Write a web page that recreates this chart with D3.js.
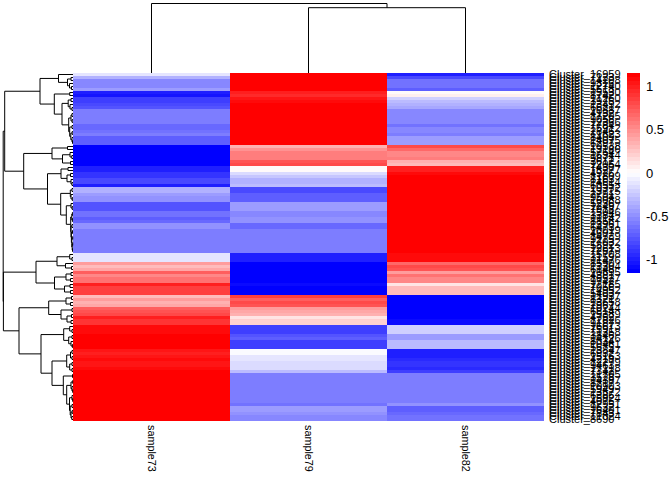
<!DOCTYPE html>
<html>
<head>
<title>Cluster heatmap</title>
<script src="https://d3js.org/d3.v7.min.js"></script>
<style>
  html, body { margin: 0; padding: 0; background: #fff; }
  svg { display: block; }
  text { font-family: "Liberation Sans", Arial, sans-serif; fill: #000; }
  .row-label { text-rendering: optimizeSpeed; font-kerning: none; }
</style>
</head>
<body>
<svg id="chart" width="672" height="480"></svg>
<script>
var samples = ["sample73", "sample79", "sample82"];

var sample73 = [
  -0.12, -0.35, -0.53, -0.53, -0.53, -0.45, -1.0, -1.03, -0.87, -0.85,
  -0.82, -0.78, -0.6, -0.6, -0.6, -0.6, -0.6, -0.68, -0.66, -0.62,
  -0.58, -0.72, -0.72, -0.72, -1.15, -1.15, -1.15, -1.15, -1.15, -1.13,
  -1.12, -1.0, -1.0, -0.9, -0.88, -0.82, -0.82, -1.0, -0.35, -0.33,
  -0.45, -0.47, -0.47, -0.75, -0.75, -0.75, -0.62, -0.63, -0.7, -0.68,
  -0.5, -0.5, -0.58, -0.58, -0.58, -0.58, -0.58, -0.58, -0.58, -0.58,
  -0.12, -0.12, -0.12, 0.45, 0.32, 0.4, 0.72, 0.52, 0.62, 0.63,
  1.0, 0.87, 0.87, 0.85, 0.3, 0.42, 0.35, 0.37, 0.72, 0.78,
  0.82, 1.0, 0.9, 0.88, 1.08, 1.08, 1.08, 1.15, 1.15, 1.15,
  1.15, 1.15, 1.02, 1.0, 1.06, 1.08, 1.05, 1.03, 1.1, 1.15,
  1.15, 1.15, 1.15, 1.15, 1.15, 1.15, 1.15, 1.15, 1.15, 1.15,
  1.15, 1.15, 1.15, 1.15, 1.15, 1.15
];

var sample79 = [
  1.13, 1.15, 1.15, 1.15, 1.15, 1.15, 1.0, 0.95, 1.05, 1.1,
  1.15, 1.15, 1.15, 1.15, 1.15, 1.15, 1.15, 1.15, 1.15, 1.15,
  1.15, 1.15, 1.15, 1.15, 0.35, 0.47, 0.6, 0.6, 0.58, 0.78,
  0.8, 0.0, 0.02, -0.18, -0.25, -0.33, -0.33, -0.28, -0.8, -0.82,
  -0.7, -0.7, -0.7, -0.42, -0.42, -0.42, -0.53, -0.52, -0.47, -0.47,
  -0.65, -0.65, -0.58, -0.58, -0.58, -0.58, -0.58, -0.58, -0.58, -0.58,
  -1.0, -1.0, -1.0, -1.12, -1.14, -1.15, -1.15, -1.15, -1.15, -1.15,
  -1.1, -1.15, -1.15, -1.15, 0.85, 0.73, 0.8, 0.78, 0.43, 0.37,
  0.33, 0.12, 0.2, 0.22, -0.87, -0.87, -0.87, -0.75, -0.72, -0.85,
  -0.85, -0.85, -0.03, -0.04, -0.1, -0.12, -0.16, -0.14, -0.14, -0.3,
  -0.58, -0.58, -0.58, -0.58, -0.58, -0.58, -0.58, -0.58, -0.58, -0.58,
  -0.64, -0.45, -0.45, -0.5, -0.52, -0.52
];

var sample82 = [
  -1.01, -0.8, -0.62, -0.62, -0.62, -0.7, 0.0, 0.05, -0.2, -0.28,
  -0.33, -0.37, -0.55, -0.55, -0.55, -0.55, -0.55, -0.62, -0.55, -0.55,
  -0.57, -0.43, -0.43, -0.43, 0.8, 0.68, 0.55, 0.55, 0.57, 0.35,
  0.32, 1.0, 1.0, 1.08, 1.13, 1.15, 1.15, 1.12, 1.15, 1.15,
  1.15, 1.15, 1.15, 1.15, 1.15, 1.15, 1.15, 1.15, 1.15, 1.15,
  1.15, 1.15, 1.15, 1.15, 1.15, 1.15, 1.15, 1.15, 1.15, 1.15,
  1.1, 1.1, 1.1, 0.68, 0.8, 0.75, 0.43, 0.62, 0.53, 0.52,
  0.1, 0.28, 0.28, 0.3, -1.15, -1.15, -1.15, -1.15, -1.15, -1.15,
  -1.15, -1.12, -1.1, -1.1, -0.22, -0.22, -0.22, -0.42, -0.43, -0.3,
  -0.3, -0.3, -1.0, -1.0, -0.98, -0.97, -0.9, -0.9, -0.95, -0.85,
  -0.58, -0.58, -0.58, -0.58, -0.58, -0.58, -0.58, -0.58, -0.58, -0.58,
  -0.5, -0.7, -0.7, -0.65, -0.62, -0.62
];

// row labels, most of them overlap too much to read so the ids are estimates
var clusterIds = [
  16959, 7123, 14208, 9316, 12740, 5518, 15530, 8742, 11260, 3975,
  13492, 6621, 10887, 4132, 17205, 9058, 12366, 7784, 15912, 2846,
  11623, 8409, 14075, 6297, 10538, 13186, 5764, 16344, 9871, 3612,
  12054, 7430, 15277, 4926, 11809, 8163, 14614, 6055, 10372, 13725,
  2791, 9504, 16088, 5236, 12497, 7918, 15046, 3384, 11142, 8856,
  13961, 6473, 10019, 4607, 14739, 9225, 17032, 5892, 12613, 7267,
  15708, 3159, 11476, 8590, 13304, 6148, 10695, 4381, 16527, 9742,
  12185, 7056, 14952, 5403, 11937, 8321, 13658, 2967, 10244, 6814,
  15389, 4752, 12826, 9187, 16673, 7591, 11358, 3846, 14126, 8034,
  10461, 5675, 13847, 6932, 15163, 4218, 12279, 9463, 17118, 7342,
  11705, 3528, 14387, 8217, 10903, 5949, 13572, 6386, 15824, 4075,
  12951, 9632, 16401, 7843, 11024, 8690
];

var colorTicks = [1, 0.5, 0, -0.5, -1];
var colorBreaks = 50;

// dendrograms: [height, left, right], 0 is a leaf
var rowTree = [6.98,
  [6.83,
    [3.3,
      [1.45, 0, [0.55, [0.2, 0, 0], [0.35, 0, [0.15, 0, 0]]]],
      [1.87,
        [0.33, 0, 0],
        [1.1,
          [0.48, [0.2, 0, 0], [0.3, 0, [0.1, 0, 0]]],
          [0.43,
            [0.2, [0.1, 0, 0], [0.08, 0, 0]],
            [0.33, [0.1, 0, 0], [0.22, [0.08, 0, 0], [0.1, 0, [0.05, 0, 0]]]]]]]],
    [4.93,
      [2.1, [0.55, 0, 0], [1.05, [0.3, 0, [0.12, 0, 0]], [0.25, 0, 0]]],
      [2.55,
        [1.2, [0.5, 0, 0], [0.6, [0.25, 0, 0], [0.2, 0, [0.1, 0, 0]]]],
        [1.23,
          [0.27, [0.1, 0, 0], [0.2, 0, [0.07, 0, 0]]],
          [0.67,
            [0.2, 0, [0.08, 0, 0]],
            [0.23,
              [0.12, [0.06, 0, 0], [0.06, 0, 0]],
              [0.2, [0.1, 0, 0],
                [0.16, [0.05, 0, 0],
                  [0.12, [0.03, 0, 0], [0.08, [0.03, 0, 0], [0.05, 0, 0]]]]]]]]]]],
  [6.96,
    [3.7,
      [1.6, [0.33, 0, [0.1, 0, 0]], [0.75, 0, [0.15, 0, 0]]],
      [1.85, [0.7, [0.2, 0, 0], [0.25, 0, 0]], [0.85, [0.3, 0, 0], [0.25, 0, 0]]]],
    [5.4,
      [2.43,
        [0.7, [0.15, 0, 0], [0.25, 0, 0]],
        [1.2, [0.1, 0, 0], [0.6, [0.15, 0, 0], [0.2, 0, 0]]]],
      [3.2,
        [0.93, [0.33, 0, [0.1, 0, 0]], [0.43, [0.1, 0, 0], [0.2, 0, [0.06, 0, 0]]]],
        [2.1,
          [0.63, [0.25, [0.1, 0, 0], [0.1, 0, 0]], [0.33, [0.1, 0, 0], [0.1, 0, 0]]],
          [0.97,
            [0.05, 0, 0],
            [0.63,
              [0.2, [0.03, 0, 0], [0.1, 0, [0.03, 0, 0]]],
              [0.35, [0.1, 0, [0.03, 0, 0]],
                [0.28, [0.1, 0, 0], [0.2, [0.08, 0, 0], [0.12, 0, 0]]]]]]]]]]];

var colTree = [6.95, 0, [6.53, 0, 0]];

var svg = d3.select("#chart");
var matrix = [sample73, sample79, sample82];
var rowIndex = d3.range(sample73.length);

var x = d3.scaleBand().domain(samples).range([73, 544]);
var y = d3.scaleBand().domain(rowIndex).range([73, 421]);
var treeScale = d3.scaleLinear().domain([0, 6.98]).range([73, 3.2]);

var limit = 1.155;
var ramp = d3.piecewise(d3.interpolateRgb, ["#0000ff", "#ffffff", "#ff0000"]);
var palette = d3.range(colorBreaks).map(function (i) {
  return ramp(i / (colorBreaks - 1));
});
var color = d3.scaleQuantize().domain([-limit, limit]).range(palette);

// heatmap cells
var cols = svg.append("g").attr("shape-rendering", "crispEdges")
  .selectAll("g")
  .data(samples)
  .enter()
  .append("g");

cols.selectAll("rect")
  .data(function (d, i) { return matrix[i]; })
  .enter()
  .append("rect")
  .attr("x", function () { return x(d3.select(this.parentNode).datum()); })
  .attr("y", function (d, i) { return y(i); })
  .attr("width", x.bandwidth())
  .attr("height", y.bandwidth())
  .attr("fill", function (d) { return color(d); });

// walks a tree, returns the leaf side position of the node and collects segments
function walkTree(node, leafPos, segments) {
  if (node === 0) {
    return { pos: leafPos(), h: 0 };
  }
  var a = walkTree(node[1], leafPos, segments);
  var b = walkTree(node[2], leafPos, segments);
  segments.push([a.h, a.pos, node[0], a.pos]);
  segments.push([b.h, b.pos, node[0], b.pos]);
  segments.push([node[0], a.pos, node[0], b.pos]);
  return { pos: (a.pos + b.pos) / 2, h: node[0] };
}

var rowSegments = [];
var nextRow = 0;
walkTree(rowTree, function () {
  return y(nextRow++) + y.bandwidth() / 2;
}, rowSegments);

var colSegments = [];
var nextCol = 0;
walkTree(colTree, function () {
  return x(samples[nextCol++]) + x.bandwidth() / 2;
}, colSegments);

var dendro = svg.append("g")
  .attr("stroke", "#000")
  .attr("stroke-width", 1)
  .attr("fill", "none");

dendro.selectAll(".row-link")
  .data(rowSegments)
  .enter()
  .append("line")
  .attr("class", "row-link")
  .attr("x1", function (d) { return treeScale(d[0]); })
  .attr("y1", function (d) { return d[1]; })
  .attr("x2", function (d) { return treeScale(d[2]); })
  .attr("y2", function (d) { return d[3]; });

dendro.selectAll(".col-link")
  .data(colSegments)
  .enter()
  .append("line")
  .attr("class", "col-link")
  .attr("x1", function (d) { return d[1]; })
  .attr("y1", function (d) { return treeScale(d[0]); })
  .attr("x2", function (d) { return d[3]; })
  .attr("y2", function (d) { return treeScale(d[2]); });

// row labels, the group opacity keeps the glyph edges grey
svg.append("g").attr("opacity", 0.999).selectAll("text")
  .data(clusterIds)
  .enter()
  .append("text")
  .attr("class", "row-label")
  .attr("x", 549)
  .attr("y", function (d, i) { return y(i) + y.bandwidth() / 2; })
  .attr("dy", "0.35em")
  .attr("font-size", 11)
  .text(function (d) { return "Cluster_" + d; });

// column labels
svg.append("g").selectAll("text")
  .data(samples)
  .enter()
  .append("text")
  .attr("transform", function (d) {
    return "translate(" + (x(d) + x.bandwidth() / 2) + ",425) rotate(90)";
  })
  .attr("dy", "0.35em")
  .attr("font-size", 10.8)
  .text(function (d) { return d; });

// colour bar
var barScale = d3.scaleLinear().domain([-limit, limit]).range([273, 73]);
var barStep = 200 / colorBreaks;

svg.append("g").attr("shape-rendering", "crispEdges")
  .selectAll("rect")
  .data(palette)
  .enter()
  .append("rect")
  .attr("x", 627)
  .attr("y", function (d, i) { return 273 - (i + 1) * barStep; })
  .attr("width", 13)
  .attr("height", barStep)
  .attr("fill", function (d) { return d; });

svg.append("g").selectAll("text")
  .data(colorTicks)
  .enter()
  .append("text")
  .attr("x", 646)
  .attr("y", function (d) { return barScale(d); })
  .attr("dy", "0.35em")
  .attr("font-size", 13)
  .text(function (d) { return d; });
</script>
</body>
</html>
